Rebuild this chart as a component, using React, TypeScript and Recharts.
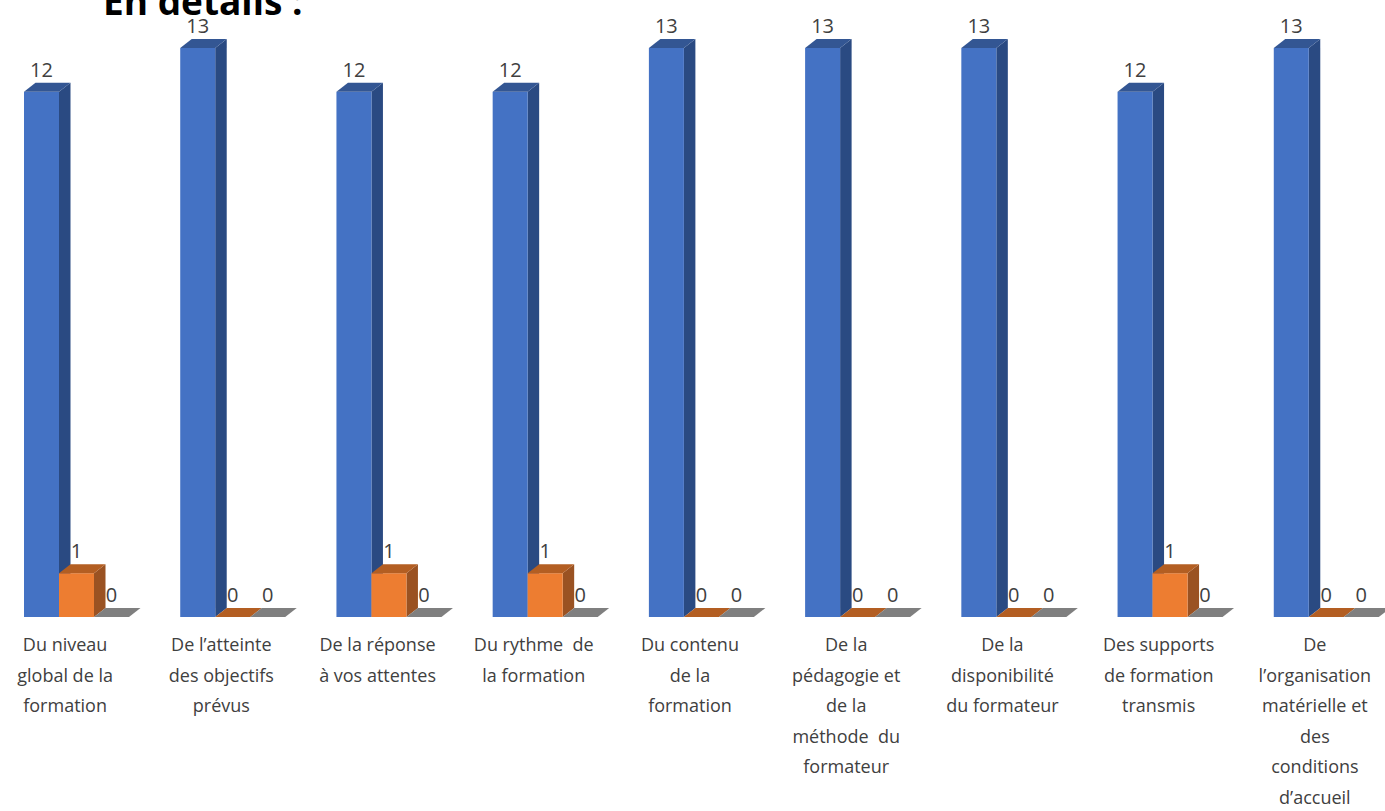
import React from "react";
import { BarChart, Bar, XAxis, YAxis, LabelList } from "recharts";

const categories = [
  "Du niveau|global de la|formation",
  "De l’atteinte|des objectifs|prévus",
  "De la réponse|à vos attentes",
  "Du rythme  de|la formation",
  "Du contenu|de la|formation",
  "De la|pédagogie et|de la|méthode  du|formateur",
  "De la|disponibilité|du formateur",
  "Des supports|de formation|transmis",
  "De|l’organisation|matérielle et|des|conditions|d’accueil",
];
const satisfied = [12, 13, 12, 12, 13, 13, 13, 12, 13];
const medium = [1, 0, 1, 1, 0, 0, 0, 1, 0];
const unsatisfied = [0, 0, 0, 0, 0, 0, 0, 0, 0];

const data = categories.map((c, i) => ({
  category: c,
  satisfied: satisfied[i],
  medium: medium[i],
  unsatisfied: unsatisfied[i],
}));

const DX = 11.5;
const DY = 9;
const FONT = "'Open Sans', sans-serif";

const Bar3D = (colors: { front: string; top: string; side: string }) => (props: any) => {
  const { x, y, width, height } = props;
  const r = x + width;
  const b = y + height;
  return (
    <g>
      {height > 0 && (
        <path d={`M${r} ${y}L${r + DX} ${y - DY}L${r + DX} ${b - DY}L${r} ${b}Z`} fill={colors.side} />
      )}
      {height > 0 && <rect x={x} y={y} width={width} height={height} fill={colors.front} />}
      <path d={`M${x} ${y}L${x + DX} ${y - DY}L${r + DX} ${y - DY}L${r} ${y}Z`} fill={colors.top} />
    </g>
  );
};

const CategoryTick = (props: any) => {
  const { x, y, payload } = props;
  const lines = String(payload.value).split("|");
  return (
    <text x={x - 11} y={y} textAnchor="middle" fontFamily={FONT} fontSize={18} fill="#404040" style={{ whiteSpace: "pre" }}>
      {lines.map((l: string, i: number) => (
        <tspan key={i} x={x - 11} y={y + 26 + i * 30.6}>{l}</tspan>
      ))}
    </text>
  );
};

const labelStyle = { fontFamily: FONT, fontSize: 20, fill: "#404040" };

export default function App() {
  return (
    <div style={{ position: "absolute", left: 0, top: 0, width: 1385, height: 811, overflow: "hidden", background: "#fff" }}>
      <div style={{ position: "absolute", left: 103, top: -24, fontFamily: "'Open Sans', sans-serif", fontWeight: 700, fontSize: 37, color: "#000", whiteSpace: "nowrap", lineHeight: "50px" }}>
        En détails :
      </div>
      <div style={{ position: "absolute", left: -2, top: 0 }}>
        <BarChart
          width={1406}
          height={811}
          data={data}
          margin={{ top: 48, right: 0, bottom: 0, left: 0 }}
          barGap={0}
          barSize={35}
          style={{ overflow: "visible" }}
        >
          <XAxis dataKey="category" height={194} axisLine={false} tickLine={false} interval={0} tick={<CategoryTick />} />
          <YAxis hide domain={[0, 13]} width={0} />
          <Bar dataKey="satisfied" isAnimationActive={false} shape={Bar3D({ front: "#4472C4", top: "#335693", side: "#2A4A82" })}>
            <LabelList dataKey="satisfied" position="top" offset={15} style={labelStyle} />
          </Bar>
          <Bar dataKey="medium" isAnimationActive={false} shape={Bar3D({ front: "#ED7D31", top: "#B35E22", side: "#9A5222" })}>
            <LabelList dataKey="medium" position="top" offset={15} style={labelStyle} />
          </Bar>
          <Bar dataKey="unsatisfied" isAnimationActive={false} shape={Bar3D({ front: "#A5A5A5", top: "#7F7F7F", side: "#6E6E6E" })}>
            <LabelList dataKey="unsatisfied" position="top" offset={15} style={labelStyle} />
          </Bar>
        </BarChart>
      </div>
    </div>
  );
}
